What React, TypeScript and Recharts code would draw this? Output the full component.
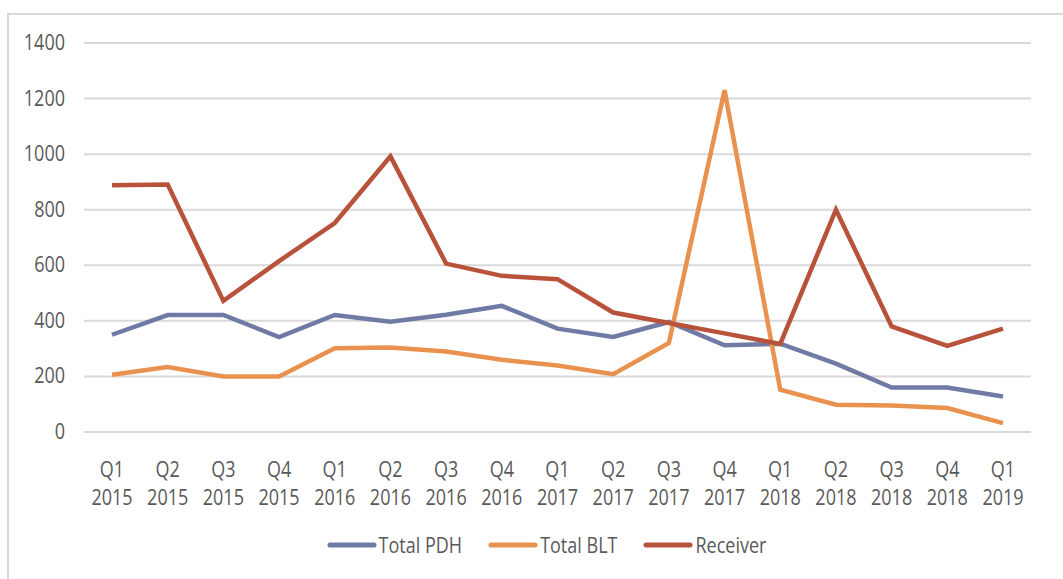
import React from 'react';
import { LineChart, Line, XAxis, YAxis, CartesianGrid, Legend } from 'recharts';

const quarters = ['Q1', 'Q2', 'Q3', 'Q4', 'Q1', 'Q2', 'Q3', 'Q4', 'Q1', 'Q2', 'Q3', 'Q4', 'Q1', 'Q2', 'Q3', 'Q4', 'Q1'];
const years = ['2015', '2015', '2015', '2015', '2016', '2016', '2016', '2016', '2017', '2017', '2017', '2017', '2018', '2018', '2018', '2018', '2019'];
const totalPDH = [350, 421, 421, 342, 421, 397, 422, 454, 372, 342, 396, 312, 318, 246, 160, 160, 128];
const totalBLT = [206, 234, 200, 200, 301, 304, 290, 260, 239, 208, 320, 1230, 152, 98, 95, 86, 32];
const receiver = [888, 891, 472, 615, 752, 992, 606, 562, 550, 430, 392, 355, 317, 800, 380, 310, 372];
const yTicks = [0, 200, 400, 600, 800, 1000, 1200, 1400];

const seriesNames = ['Total PDH', 'Total BLT', 'Receiver'];
const seriesColors = ['#6F7BA4', '#E9924F', '#B9523A'];

const data = quarters.map((q, i) => ({
  name: q + ' ' + years[i],
  pdh: totalPDH[i],
  blt: totalBLT[i],
  rec: receiver[i],
}));

const FONT = '"Open Sans", sans-serif';
const TEXT = '#595959';
const FS = 18;
const SY = 1.2;

const XTick = (props: any) => {
  const { x, y, payload } = props;
  const parts = String(payload.value).split(' ');
  return (
    <g>
      <g transform={`translate(${x},${y + 37}) scale(1,${SY})`}>
        <text x={0} y={0} textAnchor="middle" fill={TEXT} fontFamily={FONT} fontSize={FS}>{parts[0]}</text>
      </g>
      <g transform={`translate(${x},${y + 65}) scale(1,${SY})`}>
        <text x={0} y={0} textAnchor="middle" fill={TEXT} fontFamily={FONT} fontSize={FS}>{parts[1]}</text>
      </g>
    </g>
  );
};

const YTick = (props: any) => {
  const { x, y, payload } = props;
  return (
    <g transform={`translate(${x},${y + 7}) scale(1,${SY})`}>
      <text x={0} y={0} textAnchor="end" fill={TEXT} fontFamily={FONT} fontSize={FS}>{payload.value}</text>
    </g>
  );
};

const LegendContent = () => {
  const items = seriesNames.map((n, i) => ({ name: n, color: seriesColors[i] }));
  return (
    <div style={{ display: 'flex', justifyContent: 'center', alignItems: 'center', fontFamily: FONT, fontSize: FS, color: TEXT, paddingLeft: 30 }}>
      {items.map((it, i) => (
        <div key={i} style={{ display: 'flex', alignItems: 'center', marginRight: i < 2 ? 26 : 0 }}>
          <svg width={50} height={10} style={{ marginRight: 2 }}>
            <line x1={3} y1={5} x2={47} y2={5} stroke={it.color} strokeWidth={5} strokeLinecap="round" />
          </svg>
          <span style={{ display: 'inline-block', transform: `scaleY(${SY})` }}>{it.name}</span>
        </div>
      ))}
    </div>
  );
};

export default function App() {
  return (
    <div style={{ position: 'absolute', left: 0, top: 0, width: 1063, height: 579, background: '#fff', overflow: 'hidden' }}>
      <div style={{ position: 'absolute', left: 7, top: 13, width: 1070, height: 580, border: '2px solid #d9d9d9', boxSizing: 'border-box' }} />
      <div style={{ position: 'absolute', left: 0, top: 0 }}>
        <LineChart width={1063} height={579} data={data} margin={{ top: 43, right: 32, left: 24, bottom: 67 }}>
          <CartesianGrid horizontal vertical={false} stroke="#d9d9d9" strokeWidth={2} />
          <XAxis
            dataKey="name"
            interval={0}
            tick={<XTick />}
            tickLine={false}
            axisLine={{ stroke: '#d9d9d9', strokeWidth: 2 }}
            height={80}
            padding={{ left: 28, right: 28 }}
          />
          <YAxis
            domain={[0, 1400]}
            ticks={yTicks}
            interval={0}
            width={60}
            tickLine={false}
            axisLine={false}
            tickSize={0}
            tickMargin={19}
            tick={<YTick />}
          />
          <Legend
            layout="horizontal"
            verticalAlign="middle"
            align="center"
            content={<LegendContent />}
            wrapperStyle={{ top: 533, left: 0, width: 1063 }}
          />
          <Line type="linear" dataKey="pdh" name={seriesNames[0]} stroke={seriesColors[0]} strokeWidth={4.5} dot={false} isAnimationActive={false} />
          <Line type="linear" dataKey="blt" name={seriesNames[1]} stroke={seriesColors[1]} strokeWidth={4.5} dot={false} isAnimationActive={false} />
          <Line type="linear" dataKey="rec" name={seriesNames[2]} stroke={seriesColors[2]} strokeWidth={4.5} dot={false} isAnimationActive={false} />
        </LineChart>
      </div>
    </div>
  );
}
